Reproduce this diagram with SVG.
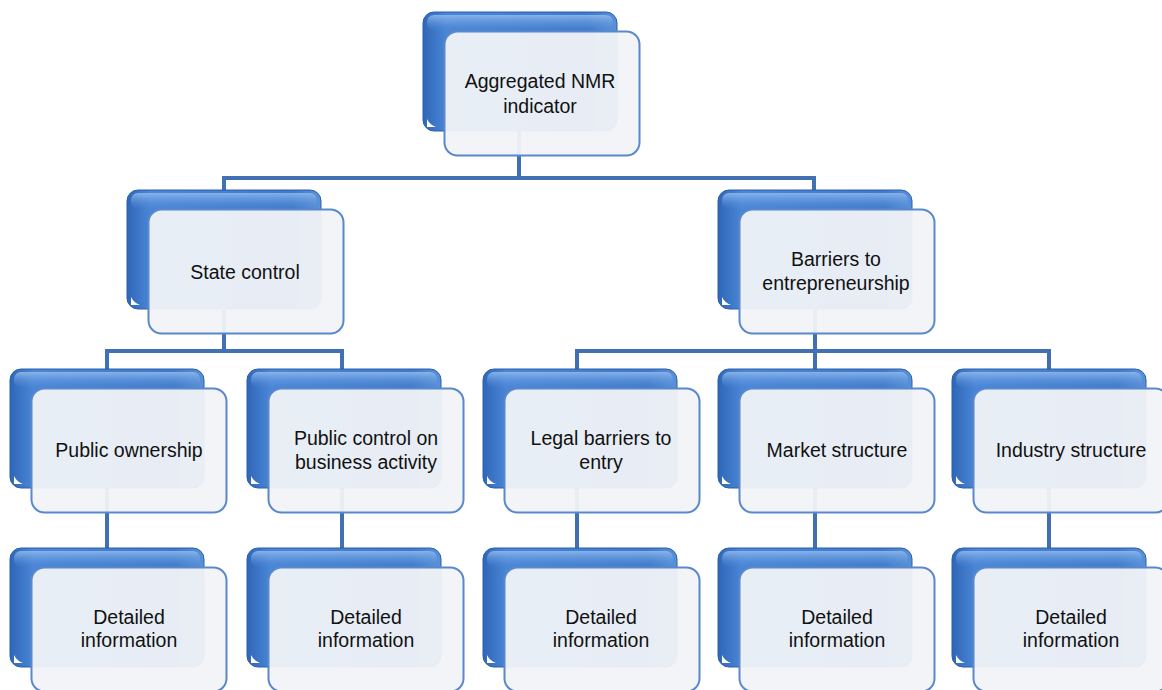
<svg xmlns="http://www.w3.org/2000/svg" width="1162" height="690" viewBox="0 0 1162 690">
<defs>
<linearGradient id="gBack" x1="0" y1="0" x2="1" y2="0">
<stop offset="0" stop-color="#2f66b8"/>
<stop offset="0.12" stop-color="#4a86d6"/>
<stop offset="0.85" stop-color="#3f7aca"/>
<stop offset="1" stop-color="#5a92d8"/>
</linearGradient>
<linearGradient id="gHi" x1="0" y1="0" x2="0" y2="1">
<stop offset="0" stop-color="#8fb8ec" stop-opacity="0.9"/>
<stop offset="1" stop-color="#5a92dc" stop-opacity="0"/>
</linearGradient>
<g id="node">
<rect x="0" y="0" width="194" height="119" rx="11" fill="url(#gBack)" stroke="#2d5fa9" stroke-width="1"/>
<rect x="4" y="3" width="186" height="16" rx="7" fill="url(#gHi)"/>
<path d="M4,115 L4,107 Q7,113 13,115 Z" fill="#ffffff"/>
<rect x="21.5" y="19.5" width="195" height="124" rx="13" fill="#f1f3f7" fill-opacity="0.95" stroke="#5a88cc" stroke-width="2"/>
</g>
</defs>
<style>
.t{font-family:"Liberation Sans",Arial,sans-serif;font-size:19.5px;fill:#111111;text-anchor:middle}
.c{fill:none;stroke:#4170b4;stroke-width:4;stroke-linecap:square}
</style>
<rect width="1162" height="690" fill="#ffffff"/>
<g id="connectors" class="c">
<path d="M519,130 V178 M224,178 H814 M224,178 V190 M814,178 V190"/>
<path d="M224,312 V351 M107,351 H342 M107,351 V369 M342,351 V369"/>
<path d="M815,312 V351 M577,351 H1049 M577,351 V369 M815,351 V369 M1049,351 V369"/>
<path d="M107,488 V548 M342,488 V548 M577,488 V548 M815,488 V548 M1049,488 V548"/>
</g>
<g id="n-top"><use href="#node" x="423" y="12"/><text class="t"><tspan x="540" y="88">Aggregated NMR</tspan><tspan x="540" y="113">indicator</tspan></text></g>
<g id="n-state"><use href="#node" x="127" y="190"/><text class="t" x="245" y="279">State control</text></g>
<g id="n-barriers"><use href="#node" x="718" y="190"/><text class="t"><tspan x="836" y="266">Barriers to</tspan><tspan x="836" y="290">entrepreneurship</tspan></text></g>
<g id="n-public-ownership"><use href="#node" x="10" y="369"/><text class="t" x="129" y="457">Public ownership</text></g>
<g id="n-public-control"><use href="#node" x="247" y="369"/><text class="t"><tspan x="366" y="445">Public control on</tspan><tspan x="366" y="469">business activity</tspan></text></g>
<g id="n-legal"><use href="#node" x="483" y="369"/><text class="t"><tspan x="601" y="445">Legal barriers to</tspan><tspan x="601" y="469">entry</tspan></text></g>
<g id="n-market"><use href="#node" x="718" y="369"/><text class="t" x="837" y="457">Market structure</text></g>
<g id="n-industry"><use href="#node" x="952" y="369"/><text class="t" x="1071" y="457">Industry structure</text></g>
<g id="n-d1"><use href="#node" x="10" y="548"/><text class="t"><tspan x="129" y="624">Detailed</tspan><tspan x="129" y="647">information</tspan></text></g>
<g id="n-d2"><use href="#node" x="247" y="548"/><text class="t"><tspan x="366" y="624">Detailed</tspan><tspan x="366" y="647">information</tspan></text></g>
<g id="n-d3"><use href="#node" x="483" y="548"/><text class="t"><tspan x="601" y="624">Detailed</tspan><tspan x="601" y="647">information</tspan></text></g>
<g id="n-d4"><use href="#node" x="718" y="548"/><text class="t"><tspan x="837" y="624">Detailed</tspan><tspan x="837" y="647">information</tspan></text></g>
<g id="n-d5"><use href="#node" x="952" y="548"/><text class="t"><tspan x="1071" y="624">Detailed</tspan><tspan x="1071" y="647">information</tspan></text></g>
</svg>
